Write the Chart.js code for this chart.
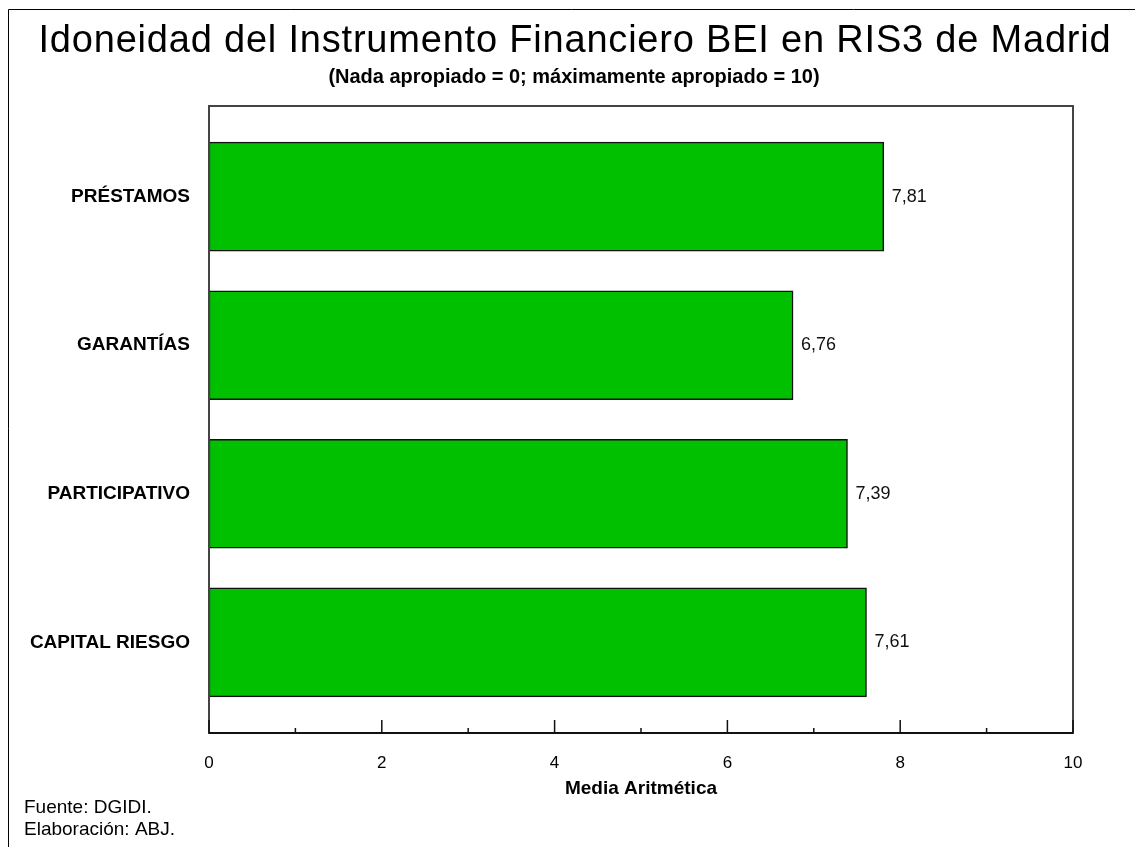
<!DOCTYPE html>
<html>
<head>
<meta charset="utf-8">
<script src="https://cdn.jsdelivr.net/npm/chart.js@4.4.1/dist/chart.umd.min.js"></script>
<style>
  html, body { margin: 0; padding: 0; background: #fff; }
  #contenedor { width: 1135px; height: 847px; }
</style>
</head>
<body>
<div id="contenedor"><canvas id="grafico"></canvas></div>
<script>
// Datos
const categorias = ['PRÉSTAMOS', 'GARANTÍAS', 'PARTICIPATIVO', 'CAPITAL RIESGO'];
const medias = [7.81, 6.76, 7.39, 7.61];
const ticksX = [0, 2, 4, 6, 8, 10];
const ticksMenores = [1, 3, 5, 7, 9];
const titulo = 'Idoneidad del Instrumento Financiero BEI en RIS3 de Madrid';
const subtitulo = '(Nada apropiado = 0; máximamente apropiado = 10)';
const tituloEje = 'Media Aritmética';
const notas = ['Fuente: DGIDI.', 'Elaboración: ABJ.'];

const FUENTE = '"Liberation Sans", Arial, sans-serif';
Chart.defaults.font.family = FUENTE;
Chart.defaults.color = '#000';

// Títulos, marco del área, marcas interiores del eje, etiquetas de valor y notas
const marco = {
    id: 'marco',
    afterDraw(chart) {
        const ctx = chart.ctx;
        const a = chart.chartArea;
        const x = chart.scales.x;
        ctx.save();

        // borde exterior (solo se ve arriba y a la izquierda)
        ctx.strokeStyle = '#000';
        ctx.lineWidth = 1;
        ctx.beginPath();
        ctx.moveTo(8.5, chart.height);
        ctx.lineTo(8.5, 9.5);
        ctx.lineTo(chart.width, 9.5);
        ctx.stroke();

        // título y subtítulo
        ctx.fillStyle = '#000';
        ctx.textAlign = 'center';
        ctx.textBaseline = 'middle';
        ctx.font = '38px ' + FUENTE;
        ctx.letterSpacing = '0.8px';
        ctx.fillText(titulo, 575, 42);
        ctx.letterSpacing = '0px';
        ctx.font = 'bold 20px ' + FUENTE;
        ctx.fillText(subtitulo, 574, 77);

        // caja del área de trazado
        ctx.strokeStyle = '#444';
        ctx.lineWidth = 2;
        ctx.strokeRect(a.left, a.top, a.right - a.left, a.bottom - a.top);
        ctx.strokeStyle = '#111';
        ctx.beginPath();
        ctx.moveTo(a.left, a.bottom);
        ctx.lineTo(a.right, a.bottom);
        ctx.stroke();

        // marcas hacia dentro
        ctx.lineWidth = 1.5;
        ctx.beginPath();
        ticksX.forEach(v => {
            const px = x.getPixelForValue(v);
            ctx.moveTo(px, a.bottom);
            ctx.lineTo(px, a.bottom - 13);
        });
        ticksMenores.forEach(v => {
            const px = x.getPixelForValue(v);
            ctx.moveTo(px, a.bottom);
            ctx.lineTo(px, a.bottom - 5);
        });
        ctx.stroke();

        // etiquetas de valor
        ctx.fillStyle = '#111';
        ctx.font = '18px ' + FUENTE;
        ctx.textAlign = 'left';
        chart.getDatasetMeta(0).data.forEach((barra, i) => {
            ctx.fillText(medias[i].toFixed(2).replace('.', ','), barra.x + 8, barra.y);
        });

        // fuente y elaboración
        ctx.fillStyle = '#000';
        ctx.font = '19px ' + FUENTE;
        ctx.fillText(notas[0], 24, 808);
        ctx.fillText(notas[1], 24, 830);
        ctx.restore();
    }
};

new Chart(document.getElementById('grafico'), {
    type: 'bar',
    data: {
        datasets: [{
            data: medias.map((v, i) => ({ x: v, y: i })),
            backgroundColor: '#00C000',
            borderColor: '#111',
            borderWidth: 1.5,
            borderSkipped: false,
            barThickness: 109
        }]
    },
    options: {
        indexAxis: 'y',
        responsive: true,
        maintainAspectRatio: false,
        animation: false,
        layout: { padding: { left: 0, right: 62, top: 106, bottom: 0 } },
        plugins: {
            legend: { display: false },
            tooltip: { enabled: false }
        },
        scales: {
            x: {
                type: 'linear',
                min: 0,
                max: 10,
                grid: { display: false },
                border: { display: false },
                afterBuildTicks: s => { s.ticks = ticksX.map(v => ({ value: v })); },
                ticks: { padding: 12, font: { size: 17 }, color: '#000' },
                title: {
                    display: true,
                    text: tituloEje,
                    color: '#000',
                    font: { size: 19, weight: 'bold' },
                    padding: { top: 0, bottom: 47 }
                },
                afterFit: s => { s.height = 114; }
            },
            y: {
                type: 'linear',
                min: -0.61,
                max: 3.61,
                offset: false,
                reverse: true,
                grid: { display: false },
                border: { display: false },
                afterBuildTicks: s => { s.ticks = categorias.map((c, i) => ({ value: i })); },
                ticks: {
                    padding: 11,
                    color: '#000',
                    font: { size: 19, weight: 'bold' },
                    callback: v => categorias[v]
                },
                afterFit: s => { s.width = 209; }
            }
        }
    },
    plugins: [marco]
});
</script>
</body>
</html>
